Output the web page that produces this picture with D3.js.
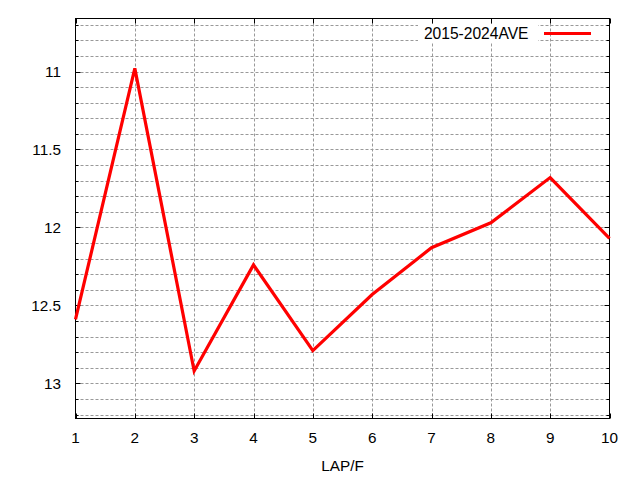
<!DOCTYPE html>
<html><head><meta charset="utf-8">
<script src="https://cdn.jsdelivr.net/npm/d3@7/dist/d3.min.js"></script>
<style>body{margin:0;background:#fff}svg{display:block}</style>
</head><body>
<script>
const laps = [1,2,3,4,5,6,7,8,9,10];
const aveValues = [12.59,10.98,12.92,12.24,12.79,12.43,12.13,11.97,11.68,12.07];
const yTickLabels = [11,11.5,12,12.5,13];
const seriesName = "2015-2024AVE";
const xLabel = "LAP/F";

const W=640,H=480;
const L=75.5,R=609.5,T=18.5,B=418.5;
const svg=d3.select("body").append("svg").attr("width",W).attr("height",H);
const x=d3.scaleLinear().domain([1,10]).range([L,R]);
const y=d3.scaleLinear().domain([10.66,13.225]).range([T,B]);
const font="Liberation Sans, Arial, sans-serif";

const minor=d3.range(107,133).map(v=>v/10);
// grid
const g=svg.append("g");
g.selectAll(".hg").data(minor).enter().append("line")
 .attr("x1",L).attr("x2",R).attr("y1",d=>Math.round(y(d))+0.5).attr("y2",d=>Math.round(y(d))+0.5)
 .attr("stroke","#999").attr("stroke-dasharray","3,2");
g.selectAll(".vg").data(laps.slice(1,-1)).enter().append("line")
 .attr("y1",T).attr("y2",B).attr("x1",d=>Math.round(x(d))+0.5).attr("x2",d=>Math.round(x(d))+0.5)
 .attr("stroke","#999").attr("stroke-dasharray","3,2");

// ticks
const isMajor=d=>Math.abs(d*2-Math.round(d*2))<1e-6;
const tk=svg.append("g").attr("stroke","#000");
minor.forEach(d=>{
  const yy=Math.round(y(d))+0.5, len=isMajor(d)?5:3;
  tk.append("line").attr("x1",L).attr("x2",L+len).attr("y1",yy).attr("y2",yy);
  tk.append("line").attr("x1",R).attr("x2",R-len).attr("y1",yy).attr("y2",yy);
});
laps.forEach(d=>{
  const xx=Math.round(x(d))+0.5;
  tk.append("line").attr("x1",xx).attr("x2",xx).attr("y1",B).attr("y2",B-5);
  tk.append("line").attr("x1",xx).attr("x2",xx).attr("y1",T).attr("y2",T+5);
});

// border
svg.append("rect").attr("x",L).attr("y",T).attr("width",R-L).attr("height",B-T)
 .attr("fill","none").attr("stroke","#000").attr("stroke-width",1);

// labels
svg.selectAll(".yl").data(yTickLabels).enter().append("text")
 .attr("x",61).attr("y",d=>y(d)).attr("dy","0.35em").attr("text-anchor","end")
 .attr("font-family",font).attr("font-size",15.3).text(d=>d);
svg.selectAll(".xl").data(laps).enter().append("text")
 .attr("x",d=>x(d)).attr("y",443).attr("text-anchor","middle")
 .attr("font-family",font).attr("font-size",15.3).text(d=>d);
svg.append("text").attr("x",(L+R)/2).attr("y",471).attr("text-anchor","middle")
 .attr("font-family",font).attr("font-size",15.3).text(xLabel);

// line
const line=d3.line().x((d,i)=>x(laps[i])).y(d=>y(d));
svg.append("path").datum(aveValues).attr("d",line).attr("fill","none")
 .attr("stroke","#ff0000").attr("stroke-width",3.2).attr("stroke-linejoin","miter");

// legend
svg.append("rect").attr("x",418).attr("y",24).attr("width",120).attr("height",18).attr("fill","#fff");
svg.append("text").attr("x",528.5).attr("y",38.5).attr("text-anchor","end")
 .attr("font-family",font).attr("font-size",15.6).text(seriesName);
svg.append("line").attr("x1",544).attr("x2",591).attr("y1",33.5).attr("y2",33.5)
 .attr("stroke","#ff0000").attr("stroke-width",3.2);
</script>
</body></html>
